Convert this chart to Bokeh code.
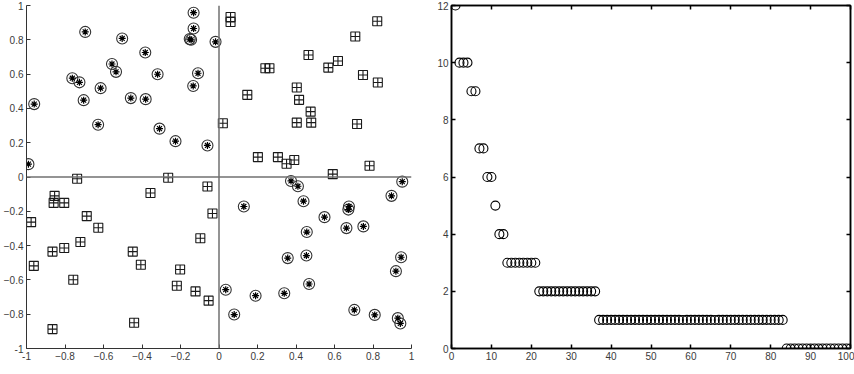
from bokeh.plotting import figure
from bokeh.layouts import row
from bokeh.models import Range1d, FixedTicker, Span, LinearAxis, CustomJSTickFormatter
from bokeh.embed import file_html
from bokeh.resources import INLINE

# ---- left panel data: circled asterisks (quadrants II & IV) ----
star_x = [-0.99, -0.96, -0.695, -0.762, -0.725, -0.703, -0.615, -0.628, -0.556, -0.535,
          -0.503, -0.458, -0.383, -0.381, -0.319, -0.309, -0.226, -0.132, -0.132, -0.152,
          -0.145, -0.109, -0.134, -0.06, -0.018,
          0.035, 0.079, 0.129, 0.19, 0.339, 0.357, 0.374, 0.41, 0.439, 0.456,
          0.454, 0.468, 0.548, 0.662, 0.675, 0.672, 0.75, 0.703, 0.809, 0.896,
          0.952, 0.946, 0.919, 0.929, 0.942]
star_y = [0.075, 0.425, 0.846, 0.576, 0.552, 0.448, 0.518, 0.305, 0.659, 0.613,
          0.808, 0.46, 0.726, 0.454, 0.599, 0.282, 0.209, 0.958, 0.866, 0.804,
          0.80, 0.605, 0.531, 0.184, 0.788,
          -0.657, -0.802, -0.172, -0.692, -0.678, -0.473, -0.023, -0.054, -0.141, -0.321,
          -0.458, -0.624, -0.234, -0.298, -0.172, -0.19, -0.288, -0.775, -0.804, -0.11,
          -0.027, -0.468, -0.549, -0.823, -0.854]

# ---- left panel data: boxed crosses (quadrants I & III) ----
box_x = [0.06, 0.06, 0.822, 0.708, 0.465, 0.568, 0.618, 0.241, 0.262, 0.748,
         0.825, 0.147, 0.404, 0.416, 0.476, 0.404, 0.479, 0.717, 0.02, 0.202,
         0.306, 0.351, 0.391, 0.782, 0.591,
         -0.737, -0.264, -0.06, -0.854, -0.859, -0.804, -0.976, -0.687, -0.627, -0.72,
         -0.804, -0.865, -0.962, -0.757, -0.865, -0.356, -0.448, -0.406, -0.441, -0.202,
         -0.219, -0.122, -0.054, -0.097, -0.034]
box_y = [0.933, 0.904, 0.908, 0.819, 0.711, 0.638, 0.676, 0.634, 0.634, 0.595,
         0.551, 0.479, 0.522, 0.45, 0.381, 0.317, 0.317, 0.309, 0.313, 0.116,
         0.116, 0.077, 0.099, 0.066, 0.017,
         -0.01, -0.004, -0.055, -0.11, -0.151, -0.151, -0.263, -0.228, -0.296, -0.379,
         -0.414, -0.435, -0.518, -0.599, -0.887, -0.093, -0.435, -0.512, -0.85, -0.539,
         -0.634, -0.667, -0.721, -0.357, -0.213]

left_ticks = [-1, -0.8, -0.6, -0.4, -0.2, 0, 0.2, 0.4, 0.6, 0.8, 1]
left_labels = {-1: "-1", 0: "0", 1: "1"}

# ---- right panel data ----
idx = list(range(1, 101))
counts = [12, 10, 10, 10, 9, 9, 7, 7, 6, 6, 5, 4, 4,
          3, 3, 3, 3, 3, 3, 3, 3,
          2, 2, 2, 2, 2, 2, 2, 2, 2, 2, 2, 2, 2, 2, 2,
          1, 1, 1, 1, 1, 1, 1, 1, 1, 1, 1, 1, 1, 1, 1, 1, 1, 1, 1, 1, 1, 1, 1, 1,
          1, 1, 1, 1, 1, 1, 1, 1, 1, 1, 1, 1, 1, 1, 1, 1, 1, 1, 1, 1, 1, 1, 1,
          0, 0, 0, 0, 0, 0, 0, 0, 0, 0, 0, 0, 0, 0, 0, 0, 0]
right_xticks = [0, 10, 20, 30, 40, 50, 60, 70, 80, 90, 100]
right_yticks = [0, 2, 4, 6, 8, 10, 12]

FONT = "Liberation Sans"
LABEL_COLOR = "#3a3a3a"


def style_axis(ax, color="#222222", width=1.0):
    ax.major_tick_in = 4
    ax.major_tick_out = 0
    ax.minor_tick_line_color = None
    ax.axis_line_color = color
    ax.axis_line_width = width
    ax.major_tick_line_color = color
    ax.major_tick_line_width = width
    ax.major_label_text_font = FONT
    ax.major_label_text_font_size = "10px"
    ax.major_label_text_color = LABEL_COLOR
    ax.major_label_standoff = 3


# ---------------- left figure ----------------
p1 = figure(width=430, height=374, x_range=Range1d(-1, 1), y_range=Range1d(-1, 1),
            output_backend="svg", toolbar_location=None,
            min_border_left=24, min_border_right=19, min_border_top=4, min_border_bottom=25)
p1.outline_line_color = None
p1.grid.visible = False
p1.background_fill_color = "white"
p1.border_fill_color = "white"
for ax in (p1.xaxis[0], p1.yaxis[0]):
    style_axis(ax, color="#333333", width=1.0)
    ax.ticker = FixedTicker(ticks=left_ticks)
    ax.major_label_overrides = left_labels

p1.add_layout(Span(location=0, dimension="height", line_color="#707070", line_width=1.5))
p1.add_layout(Span(location=0, dimension="width", line_color="#707070", line_width=1.5))

p1.scatter(star_x, star_y, marker="circle", size=11, fill_color=None,
           line_color="#333333", line_width=1.1)
p1.scatter(star_x, star_y, marker="asterisk", size=7, line_color="black", line_width=1.2)
p1.scatter(box_x, box_y, marker="square_cross", size=9, fill_color=None,
           line_color="#1a1a1a", line_width=1.1)

# ---------------- right figure ----------------
p2 = figure(width=424, height=374, x_range=Range1d(0, 100), y_range=Range1d(0, 12),
            output_backend="svg", toolbar_location=None,
            min_border_left=21, min_border_right=4, min_border_top=5, min_border_bottom=26)
p2.grid.visible = False
p2.outline_line_color = "black"
p2.outline_line_width = 1.5
p2.background_fill_color = "white"
p2.border_fill_color = "white"
style_axis(p2.xaxis[0], color="black", width=1.5)
style_axis(p2.yaxis[0], color="black", width=1.5)
p2.xaxis[0].ticker = FixedTicker(ticks=right_xticks)
p2.yaxis[0].ticker = FixedTicker(ticks=right_yticks)

blank = CustomJSTickFormatter(code="return '';")
top_ax = LinearAxis(ticker=FixedTicker(ticks=right_xticks), formatter=blank)
right_ax = LinearAxis(ticker=FixedTicker(ticks=right_yticks), formatter=blank)
for ax in (top_ax, right_ax):
    style_axis(ax, color="black", width=1.5)
    ax.major_label_standoff = 0
p2.add_layout(top_ax, "above")
p2.add_layout(right_ax, "right")

p2.scatter(idx, counts, marker="circle", size=9, fill_color=None,
           line_color="black", line_width=1.1)

layout = row(p1, p2, spacing=0)
open("out.html", "w").write(file_html(layout, INLINE))
